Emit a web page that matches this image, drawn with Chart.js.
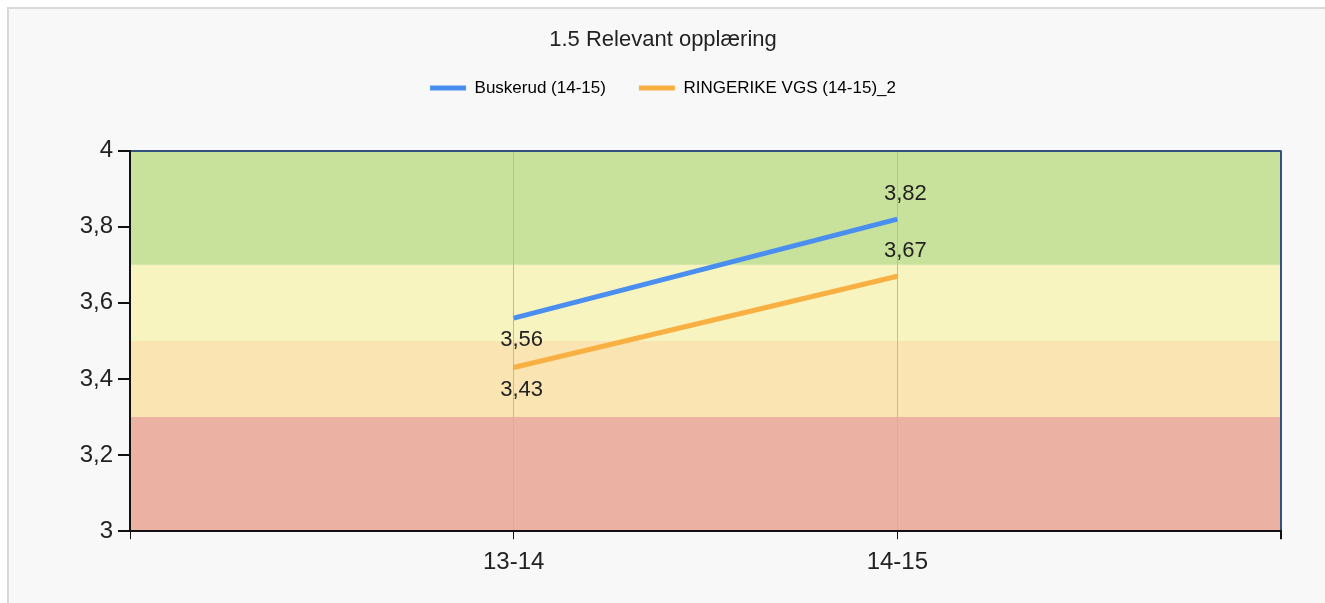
<!DOCTYPE html>
<html>
<head>
<meta charset="utf-8">
<script src="https://cdn.jsdelivr.net/npm/chart.js@4/dist/chart.umd.min.js"></script>
<style>
  html, body { margin: 0; padding: 0; background: #fff; }
  #wrap { position: relative; width: 1325px; height: 603px; }
</style>
</head>
<body>
<div id="wrap"><canvas id="graf"></canvas></div>
<script>
// data
const perioder = ['13-14', '14-15'];
const buskerud = [3.56, 3.82];
const ringerike = [3.43, 3.67];
const serieNavn = ['Buskerud (14-15)', 'RINGERIKE VGS (14-15)_2'];
const yTicks = [3, 3.2, 3.4, 3.6, 3.8, 4];
const bandGrenser = [3, 3.3, 3.5, 3.7, 4];
const tittel = '1.5 Relevant opplæring';

const FONT = "'Liberation Sans', Arial, sans-serif";
const bandFarger = ['#ebb1a3', '#f9e4b2', '#f8f4bf', '#c9e29b'];
const kantBla = '#34527f';

const komma = v => String(Math.round(v * 100) / 100).replace('.', ',');

// bakgrunn + fargebånd bak rutenettet
const bakgrunn = {
    id: 'bakgrunn',
    beforeDraw(chart) {
        const { ctx, chartArea: a, scales: { y } } = chart;
        ctx.save();
        ctx.fillStyle = '#ffffff';
        ctx.fillRect(0, 0, chart.width, chart.height);
        ctx.fillStyle = '#f8f8f8';
        ctx.fillRect(8, 8, chart.width, chart.height);
        ctx.strokeStyle = '#d9d9d9';
        ctx.lineWidth = 2;
        ctx.beginPath();
        ctx.moveTo(8, chart.height);
        ctx.lineTo(8, 8);
        ctx.lineTo(chart.width, 8);
        ctx.stroke();
        for (let i = 0; i < bandGrenser.length - 1; i++) {
            const y0 = y.getPixelForValue(bandGrenser[i]);
            const y1 = y.getPixelForValue(bandGrenser[i + 1]);
            ctx.fillStyle = bandFarger[i];
            ctx.fillRect(a.left, y1, a.right - a.left, y0 - y1);
        }
        ctx.restore();
    }
};

// verdietiketter ved punktene
const etiketter = {
    id: 'etiketter',
    afterDatasetsDraw(chart) {
        const { ctx } = chart;
        ctx.save();
        ctx.font = '22px ' + FONT;
        ctx.fillStyle = '#222';
        ctx.textAlign = 'center';
        ctx.textBaseline = 'middle';
        chart.data.datasets.forEach((ds, d) => {
            chart.getDatasetMeta(d).data.forEach((pt, i) => {
                const dy = i === 0 ? 22 : -25;
                ctx.fillText(komma(ds.data[i].y), pt.x + 8, pt.y + dy);
            });
        });
        ctx.restore();
    }
};

const tilPunkter = arr => arr.map((v, i) => ({ x: i + 1, y: v }));

new Chart(document.getElementById('graf'), {
    type: 'line',
    data: {
        datasets: [
            {
                label: serieNavn[0],
                data: tilPunkter(buskerud),
                borderColor: '#4a8ff0',
                backgroundColor: '#4a8ff0',
                borderWidth: 5,
                pointRadius: 0,
                tension: 0
            },
            {
                label: serieNavn[1],
                data: tilPunkter(ringerike),
                borderColor: '#f9b043',
                backgroundColor: '#f9b043',
                borderWidth: 5,
                pointRadius: 0,
                tension: 0
            }
        ]
    },
    options: {
        responsive: true,
        maintainAspectRatio: false,
        animation: false,
        layout: { padding: { top: 20, left: 45, right: 44, bottom: 17 } },
        plugins: {
            title: {
                display: true,
                text: tittel,
                color: '#222',
                font: { family: FONT, size: 22, weight: 'normal' },
                padding: { top: 7, bottom: -7 }
            },
            legend: {
                display: true,
                labels: {
                    color: '#222',
                    font: { family: FONT, size: 17 },
                    boxWidth: 36,
                    boxHeight: 5,
                    padding: 33,
                    generateLabels: chart => chart.data.datasets.map((ds, i) => ({
                        text: ds.label,
                        fillStyle: ds.borderColor,
                        strokeStyle: ds.borderColor,
                        lineWidth: 0,
                        hidden: false,
                        datasetIndex: i
                    }))
                }
            },
            subtitle: {
                display: true,
                text: ' ',
                position: 'top',
                weight: 500,
                font: { size: 1 },
                padding: { top: 0, bottom: 43 }
            },
            tooltip: { enabled: false }
        },
        scales: {
            x: {
                type: 'linear',
                min: 0,
                max: perioder.length + 1,
                afterBuildTicks: s => { s.ticks = [0, 1, 2, 3].map(v => ({ value: v })); },
                ticks: {
                    color: '#222',
                    font: { family: FONT, size: 24 },
                    padding: 9,
                    autoSkip: false,
                    maxRotation: 0,
                    callback: v => perioder[v - 1] || ''
                },
                grid: {
                    color: c => c.index === 3 ? kantBla : (c.index === 0 ? 'rgba(0,0,0,0)' : '#b9b9b9'),
                    lineWidth: c => c.index === 3 ? 2 : 1,
                    tickColor: '#111',
                    tickLength: 8
                },
                border: { color: '#111', width: 2 }
            },
            y: {
                min: 3,
                max: 4,
                afterBuildTicks: s => { s.ticks = yTicks.map(v => ({ value: v })); },
                afterFit: s => { s.width = 85; },
                ticks: {
                    color: '#222',
                    font: { family: FONT, size: 24 },
                    padding: 5,
                    callback: v => komma(v)
                },
                grid: {
                    color: c => c.tick && c.tick.value === 4 ? kantBla : 'rgba(0,0,0,0)',
                    lineWidth: 2,
                    tickColor: '#111',
                    tickLength: 12
                },
                border: { color: '#111', width: 2 }
            }
        }
    },
    plugins: [bakgrunn, etiketter]
});
</script>
</body>
</html>
